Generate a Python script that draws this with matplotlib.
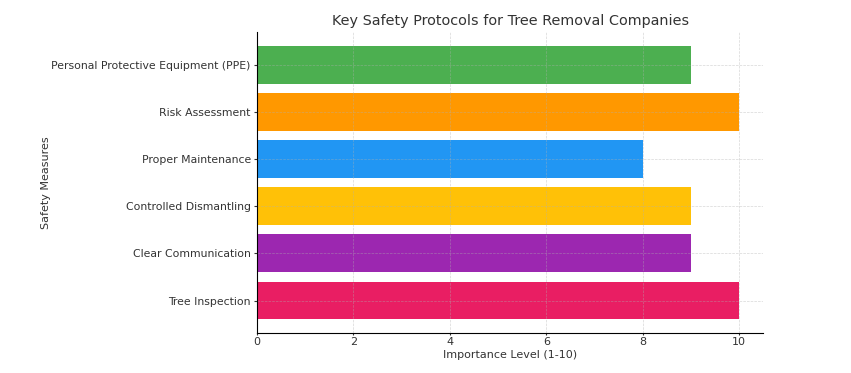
import matplotlib
matplotlib.use("Agg")
import matplotlib.pyplot as plt

categories = ["Tree Inspection", "Clear Communication", "Controlled Dismantling",
              "Proper Maintenance", "Risk Assessment", "Personal Protective Equipment (PPE)"]
importance = [10, 9, 9, 8, 10, 9]
colors = ["#E91E63", "#9C27B0", "#FFC107", "#2196F3", "#FF9800", "#4CAF50"]

fig = plt.figure(figsize=(8.51, 3.73), dpi=100)
ax = fig.add_axes([0.302, 0.107, 0.595, 0.807])
ax.barh(categories, importance, color=colors, height=0.8)
ax.set_title("Key Safety Protocols for Tree Removal Companies", fontsize=10.4, color="#333333", pad=5)
ax.set_xlabel("Importance Level (1-10)", fontsize=8, color="#333333", labelpad=2)
ax.set_ylabel("Safety Measures", fontsize=8, color="#333333", labelpad=0)
ax.tick_params(axis="y", labelsize=7.8, colors="#333333", length=2.5, pad=2, width=0.8)
ax.tick_params(axis="x", labelsize=8, colors="#333333", length=1.5, pad=1.5, width=0.8)
ax.grid(True, linestyle="--", alpha=0.5, linewidth=0.5)
for s in ["top", "right"]:
    ax.spines[s].set_visible(False)
fig.savefig("out.png", dpi=100)
